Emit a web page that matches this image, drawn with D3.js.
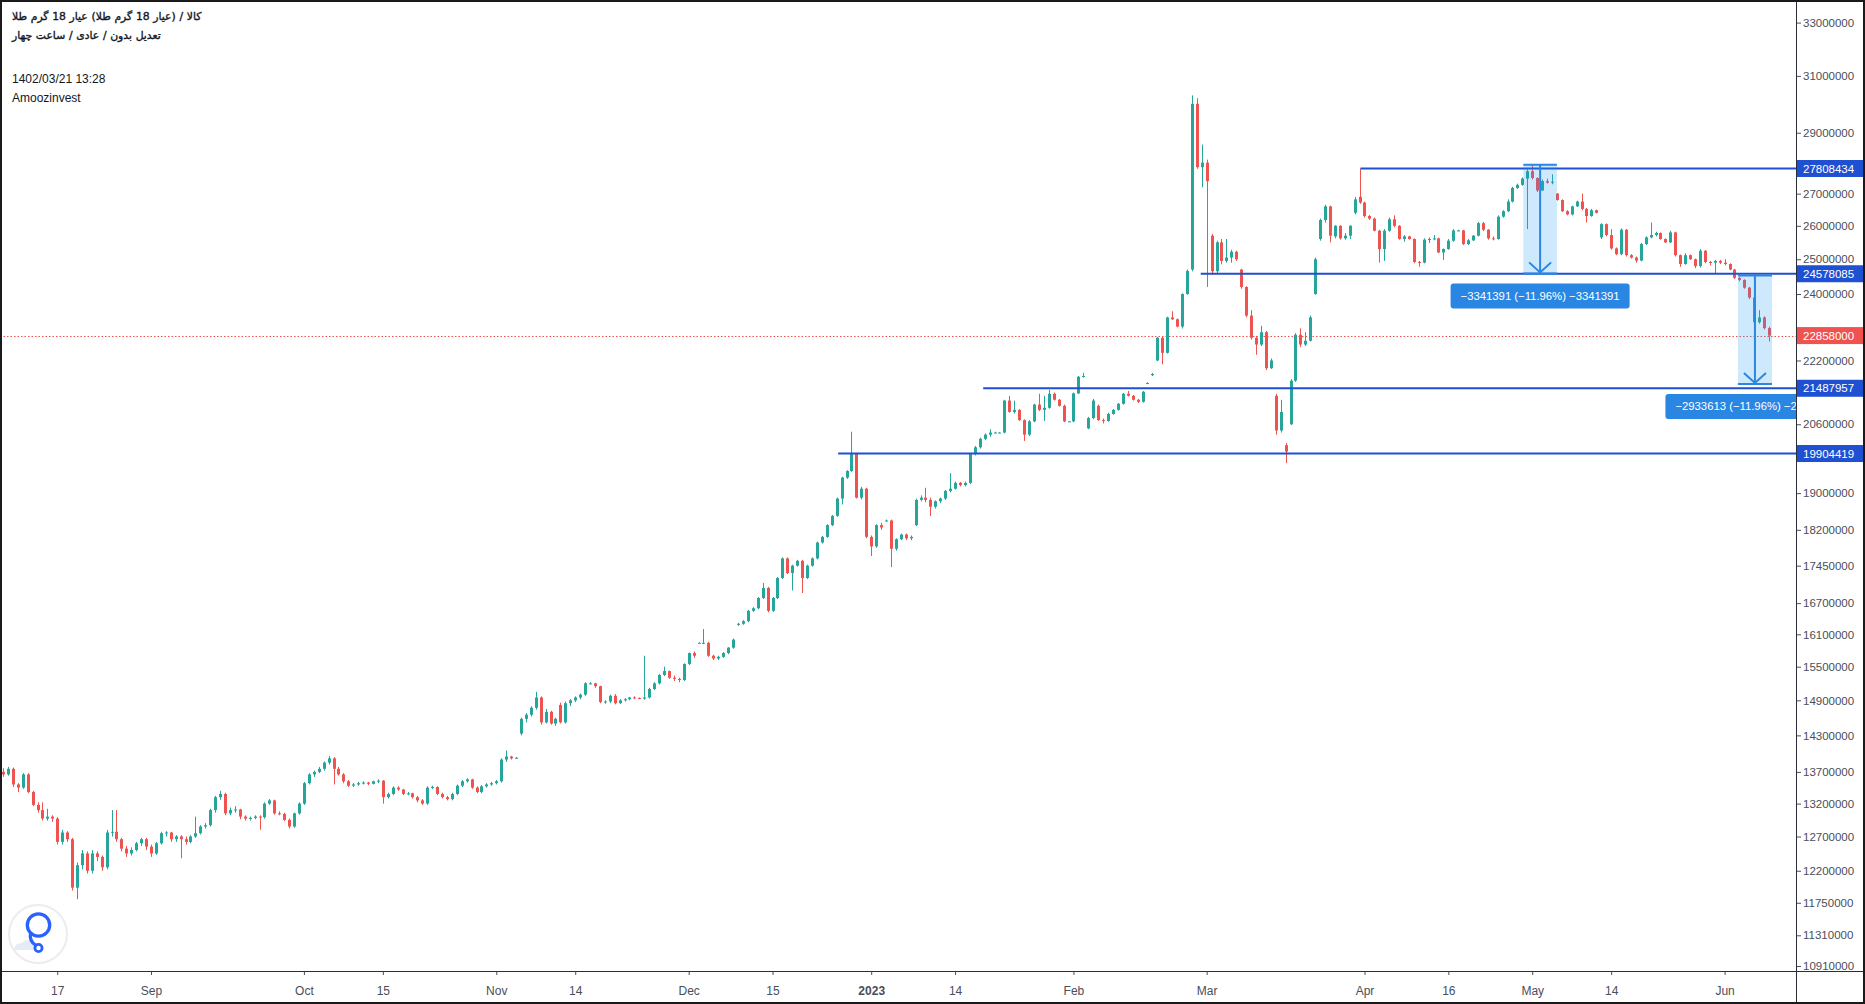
<!DOCTYPE html>
<html><head><meta charset="utf-8">
<script src="https://cdn.jsdelivr.net/npm/d3@7"></script>
<style>
html,body{margin:0;padding:0;background:#fff;}
svg{display:block;font-family:"Liberation Sans",Arial,sans-serif;}
</style></head><body>
<svg id="chart" width="1865" height="1004"></svg>
<script>
// ---------------- DATA ----------------
// 4-hour candles, [open, high, low, close] in units of 10,000 rials
const PRICE_UNIT = 10000;
const ohlc = [
[1370,1376,1362,1366],[1366,1378,1364,1375],[1375,1377,1346,1350],[1350,1352,1338,1345],[1345,1368,1343,1366],[1366,1368,1336,1338],[1338,1340,1316,1318],[1318,1322,1306,1310],[1310,1322,1294,1297],[1297,1312,1294,1300],
[1300,1302,1292,1297],[1297,1299,1258,1262],[1262,1280,1258,1276],[1276,1278,1262,1266],[1266,1268,1192,1196],[1196,1232,1180,1228],[1228,1250,1222,1245],[1245,1248,1216,1220],[1220,1250,1216,1245],[1245,1248,1234,1240],
[1240,1242,1220,1225],[1225,1280,1222,1276],[1276,1310,1270,1277],[1277,1310,1262,1266],[1266,1268,1248,1252],[1252,1256,1240,1245],[1245,1254,1242,1250],[1250,1262,1248,1260],[1260,1268,1256,1266],[1266,1268,1250,1255],
[1255,1258,1240,1245],[1245,1262,1243,1260],[1260,1277,1258,1275],[1275,1278,1270,1276],[1276,1277,1262,1266],[1266,1272,1262,1270],[1270,1272,1238,1266],[1266,1270,1258,1262],[1262,1272,1260,1270],[1270,1300,1268,1275],
[1275,1287,1273,1285],[1285,1290,1282,1287],[1287,1312,1285,1310],[1310,1332,1306,1330],[1330,1340,1326,1335],[1335,1337,1302,1305],[1305,1314,1302,1310],[1310,1316,1306,1311],[1311,1312,1296,1300],[1300,1302,1294,1297],
[1297,1300,1294,1298],[1298,1302,1296,1300],[1300,1302,1280,1299],[1299,1322,1297,1320],[1320,1327,1318,1325],[1325,1326,1303,1305],[1305,1308,1302,1304],[1304,1306,1293,1295],[1295,1297,1282,1285],[1285,1306,1283,1305],
[1305,1322,1303,1320],[1320,1354,1318,1352],[1352,1368,1350,1366],[1366,1372,1362,1370],[1370,1378,1368,1375],[1375,1387,1372,1385],[1385,1396,1382,1392],[1392,1394,1350,1375],[1375,1378,1364,1366],[1366,1368,1352,1355],
[1355,1357,1346,1348],[1348,1352,1346,1350],[1350,1354,1348,1352],[1352,1355,1350,1353],[1353,1354,1349,1351],[1351,1356,1350,1355],[1355,1358,1352,1356],[1356,1357,1320,1330],[1330,1337,1328,1335],[1335,1347,1333,1345],
[1345,1347,1340,1342],[1342,1343,1333,1335],[1335,1338,1333,1336],[1336,1337,1328,1330],[1330,1332,1322,1325],[1325,1327,1318,1320],[1320,1347,1318,1345],[1345,1348,1343,1346],[1346,1347,1333,1335],[1335,1337,1328,1330],
[1330,1332,1325,1327],[1327,1337,1325,1335],[1335,1350,1333,1348],[1348,1357,1346,1355],[1355,1360,1353,1358],[1358,1359,1343,1345],[1345,1347,1336,1338],[1338,1349,1336,1347],[1347,1352,1345,1350],[1350,1354,1348,1352],
[1352,1357,1350,1355],[1355,1392,1353,1390],[1390,1405,1386,1395],[1395,1396,1390,1392],[1392,1394,1391,1393],[1433,1460,1430,1458],[1458,1468,1452,1465],[1465,1480,1462,1477],[1477,1505,1474,1495],[1495,1497,1448,1452],
[1452,1475,1450,1470],[1470,1472,1448,1450],[1450,1460,1446,1458],[1482,1486,1450,1452],[1452,1488,1450,1485],[1485,1492,1480,1490],[1490,1497,1487,1495],[1495,1502,1492,1500],[1500,1522,1498,1520],[1520,1522,1518,1520],
[1520,1521,1512,1515],[1515,1516,1485,1487],[1487,1490,1484,1488],[1488,1500,1485,1498],[1498,1501,1483,1485],[1485,1492,1484,1490],[1490,1494,1488,1492],[1492,1496,1490,1495],[1495,1497,1492,1494],[1494,1495,1492,1493],
[1493,1570,1491,1495],[1495,1512,1493,1510],[1510,1522,1508,1520],[1520,1537,1518,1535],[1535,1550,1533,1542],[1542,1543,1528,1530],[1530,1534,1524,1528],[1528,1530,1522,1526],[1526,1556,1524,1555],[1555,1576,1553,1575],
[1575,1578,1566,1570],[1594,1595,1593,1594],[1594,1620,1592,1594],[1594,1596,1568,1570],[1570,1572,1562,1565],[1565,1570,1562,1568],[1568,1577,1566,1575],[1575,1586,1573,1585],[1585,1602,1583,1600],[1628,1632,1626,1630],
[1630,1637,1628,1635],[1635,1657,1633,1655],[1655,1662,1653,1660],[1660,1682,1658,1680],[1680,1710,1678,1700],[1700,1702,1652,1655],[1655,1682,1653,1680],[1680,1722,1678,1720],[1720,1762,1718,1760],[1760,1762,1728,1730],
[1730,1747,1695,1745],[1745,1757,1743,1755],[1755,1757,1690,1720],[1720,1747,1718,1745],[1745,1762,1743,1760],[1760,1795,1758,1793],[1793,1807,1791,1805],[1805,1832,1803,1830],[1830,1852,1828,1850],[1850,1890,1848,1888],
[1888,1937,1875,1935],[1935,1952,1932,1950],[1950,2042,1948,1990],[1990,1992,1888,1890],[1890,1914,1886,1910],[1910,1912,1802,1805],[1805,1808,1765,1785],[1785,1832,1782,1830],[1830,1835,1820,1825],[1840,1842,1838,1840],
[1840,1842,1742,1780],[1780,1802,1776,1800],[1800,1812,1798,1810],[1810,1812,1798,1802],[1802,1808,1798,1805],[1830,1888,1828,1885],[1885,1895,1882,1890],[1890,1912,1880,1885],[1885,1890,1850,1870],[1870,1884,1866,1882],
[1882,1890,1878,1888],[1888,1907,1885,1905],[1905,1945,1902,1910],[1910,1926,1908,1923],[1923,1925,1915,1918],[1918,1926,1915,1923],[1923,1992,1920,1990],[1990,2008,1986,2005],[2005,2028,2002,2025],[2025,2038,2022,2035],
[2035,2048,2030,2040],[2040,2042,2039,2040],[2040,2041,2039,2040],[2040,2120,2038,2118],[2118,2130,2088,2090],[2090,2118,2086,2095],[2095,2097,2068,2070],[2070,2072,2020,2035],[2035,2070,2032,2067],[2067,2110,2065,2108],
[2108,2135,2092,2095],[2095,2130,2068,2100],[2100,2145,2098,2135],[2135,2138,2118,2120],[2120,2122,2103,2105],[2105,2108,2065,2067],[2067,2068,2066,2067],[2067,2138,2065,2136],[2136,2180,2134,2178],[2178,2188,2176,2180],
[2050,2078,2048,2075],[2075,2122,2072,2118],[2105,2108,2068,2070],[2070,2074,2062,2068],[2068,2088,2066,2085],[2085,2097,2083,2095],[2095,2112,2093,2110],[2110,2137,2108,2135],[2135,2142,2128,2130],[2130,2132,2118,2120],
[2120,2122,2112,2115],[2115,2142,2113,2140],[2162,2164,2160,2162],[2182,2188,2180,2185],[2220,2282,2218,2280],[2280,2285,2210,2240],[2240,2337,2238,2335],[2335,2352,2328,2330],[2330,2332,2308,2310],[2310,2402,2305,2400],
[2400,2470,2398,2466],[2470,3030,2465,3000],[3000,3020,2780,2785],[2785,2860,2720,2800],[2800,2810,2420,2740],[2570,2575,2455,2465],[2465,2555,2460,2550],[2550,2560,2485,2495],[2495,2560,2490,2505],[2505,2528,2490,2522],
[2522,2525,2495,2500],[2470,2472,2415,2420],[2420,2422,2335,2340],[2340,2355,2275,2280],[2280,2285,2235,2262],[2262,2312,2258,2295],[2295,2298,2195,2200],[2200,2225,2198,2220],[2130,2135,2035,2045],[2045,2120,2040,2090],
[2010,2015,1968,1995],[2060,2172,2058,2168],[2168,2292,2165,2288],[2288,2305,2255,2262],[2262,2295,2258,2272],[2272,2340,2270,2335],[2400,2505,2398,2500],[2560,2622,2555,2618],[2618,2665,2610,2660],[2660,2662,2550,2570],
[2568,2602,2562,2600],[2600,2602,2558,2562],[2562,2578,2558,2570],[2570,2602,2560,2600],[2640,2690,2635,2682],[2690,2781,2668,2672],[2672,2675,2625,2630],[2630,2633,2618,2622],[2622,2625,2583,2585],[2585,2588,2490,2530],
[2530,2590,2495,2585],[2585,2625,2582,2620],[2620,2632,2595,2600],[2600,2602,2558,2560],[2560,2572,2552,2568],[2568,2570,2558,2560],[2560,2562,2488,2492],[2492,2495,2478,2490],[2490,2562,2488,2558],[2558,2565,2548,2560],
[2560,2572,2556,2562],[2562,2564,2518,2520],[2520,2532,2498,2530],[2530,2560,2528,2555],[2555,2590,2552,2586],[2586,2588,2584,2586],[2586,2588,2542,2545],[2545,2560,2542,2556],[2556,2572,2554,2570],[2570,2612,2568,2608],
[2608,2612,2584,2588],[2588,2590,2558,2562],[2562,2568,2556,2560],[2560,2632,2558,2628],[2628,2648,2625,2645],[2645,2682,2642,2675],[2675,2722,2672,2718],[2718,2732,2715,2728],[2728,2752,2725,2748],[2748,2778,2590,2772],
[2772,2795,2745,2750],[2750,2752,2705,2710],[2710,2745,2708,2740],[2740,2748,2732,2735],[2735,2762,2730,2738],[2700,2702,2678,2680],[2680,2682,2642,2645],[2645,2648,2632,2635],[2635,2662,2632,2660],[2660,2678,2658,2675],
[2675,2700,2648,2652],[2652,2655,2610,2630],[2630,2652,2628,2648],[2648,2650,2638,2640],[2565,2608,2560,2605],[2605,2607,2568,2572],[2572,2590,2528,2532],[2532,2535,2512,2515],[2515,2592,2512,2588],[2588,2590,2508,2512],
[2512,2515,2502,2505],[2505,2508,2490,2496],[2496,2548,2494,2545],[2545,2568,2542,2565],[2565,2610,2562,2572],[2572,2582,2568,2578],[2578,2580,2558,2560],[2560,2562,2548,2550],[2550,2585,2548,2580],[2580,2582,2508,2512],
[2512,2514,2478,2486],[2486,2518,2484,2512],[2512,2514,2498,2500],[2500,2502,2474,2480],[2480,2530,2476,2525],[2525,2527,2488,2492],[2492,2495,2482,2490],[2490,2498,2460,2495],[2495,2498,2486,2490],[2490,2500,2482,2486],
[2486,2488,2468,2470],[2470,2472,2443,2446],[2446,2448,2436,2440],[2440,2442,2415,2418],[2418,2420,2386,2390],[2390,2392,2318,2322],[2322,2355,2318,2335],[2335,2338,2302,2306],[2306,2310,2270,2285.8]
];

const priceTicks = [33000000,31000000,29000000,27000000,26000000,25000000,24000000,22200000,20600000,19000000,18200000,17450000,16700000,16100000,15500000,14900000,14300000,13700000,13200000,12700000,12200000,11750000,11310000,10910000];

const dateTickLabels = ["17","Sep","Oct","15","Nov","14","Dec","15","2023","14","Feb","Mar","Apr","16","May","14","Jun"];
const dateTickIndex  = [11,30,61,77,100,116,139,156,176,193,217,244,276,293,310,326,349];

// horizontal rays (price level, candle index where the ray starts)
const rayLevels     = [27808434, 24578085, 21487957, 19904419];
const rayStartIndex = [275.2, 242.8, 198.7, 169.3];

const lastPrice = 22858000;

// price-range measurements
const rangeFrom       = [27930000, 24530000];
const rangeChange     = [-3341391, -2933613];
const rangeStartIndex = [308.2, 351.7];
const rangeEndIndex   = [315.0, 358.6];

const titleWords    = ["طلا","گرم","18","عیار","(طلا","گرم","18","عیار)","/","کالا"];
const subtitleWords = ["چهار","ساعت","/","عادی","/","بدون","تعدیل"];
const stampText = "1402/03/21 13:28";
const brandText = "Amoozinvest";

// ---------------- DRAWING ----------------
const W = 1865, H = 1004, PR = 1796, PB = 971;
const UP = "#26a69a", DN = "#ef5350";
const RAY = "#1f50d2", RANGE = "#2a86e3";
const AXIS_TXT = "#4a4e59";

const svg = d3.select("#chart");
const P = v => v * PRICE_UNIT;

const x = d3.scaleLinear().domain([0, ohlc.length - 1]).range([3, 1769]);
const y = d3.scaleLog().domain([10910000, 33000000]).range([966, 22.6]);

svg.append("rect").attr("width", W).attr("height", H).attr("fill", "#fff");
svg.append("defs").append("clipPath").attr("id", "plotClip")
  .append("rect").attr("x", 0).attr("y", 0).attr("width", PR).attr("height", PB);

const plot = svg.append("g").attr("clip-path", "url(#plotClip)");

// last price dotted line
plot.append("line")
  .attr("x1", 0).attr("x2", PR)
  .attr("y1", Math.round(y(lastPrice)) + 0.5).attr("y2", Math.round(y(lastPrice)) + 0.5)
  .attr("stroke", DN).attr("stroke-width", 1).attr("stroke-dasharray", "1.5,2");

// candles
const cx = i => Math.round(x(i));
const candles = plot.append("g");
candles.selectAll("line").data(ohlc).join("line")
  .attr("x1", (d, i) => cx(i) + 0.5).attr("x2", (d, i) => cx(i) + 0.5)
  .attr("y1", d => y(P(d[1]))).attr("y2", d => y(P(d[2])))
  .attr("stroke", d => d[3] >= d[0] ? UP : DN).attr("stroke-width", 1);
candles.selectAll("rect").data(ohlc).join("rect")
  .attr("x", (d, i) => cx(i) - 1).attr("width", 3)
  .attr("y", d => y(P(Math.max(d[0], d[3]))))
  .attr("height", d => Math.max(1, Math.abs(y(P(d[0])) - y(P(d[3])))))
  .attr("fill", d => d[3] >= d[0] ? UP : DN);

// horizontal rays
plot.selectAll("line.ray").data(rayLevels).join("line").attr("class", "ray")
  .attr("x1", (d, i) => x(rayStartIndex[i])).attr("x2", PR)
  .attr("y1", d => y(d)).attr("y2", d => y(d))
  .attr("stroke", RAY).attr("stroke-width", 2);

// price ranges
const sgn = v => (v < 0 ? "\u2212" : "") + Math.abs(v);
rangeFrom.forEach((from, k) => {
  const to = from + rangeChange[k];
  const x0 = x(rangeStartIndex[k]), x1 = x(rangeEndIndex[k]);
  const yT = y(from), yB = y(to);
  const g = plot.append("g");
  g.append("rect").attr("x", x0).attr("y", yT).attr("width", x1 - x0).attr("height", yB - yT)
    .attr("fill", "rgba(33,150,243,0.22)");
  [yT, yB].forEach(yy => g.append("line").attr("x1", x0).attr("x2", x1).attr("y1", yy).attr("y2", yy)
    .attr("stroke", RANGE).attr("stroke-width", 2));
  const mx = (x0 + x1) / 2;
  g.append("line").attr("x1", mx).attr("x2", mx).attr("y1", yT).attr("y2", yB - 1)
    .attr("stroke", RANGE).attr("stroke-width", 2);
  g.append("path").attr("d", `M${mx - 11},${yB - 11}L${mx},${yB - 1}L${mx + 11},${yB - 11}`)
    .attr("fill", "none").attr("stroke", RANGE).attr("stroke-width", 2);
  const pct = (rangeChange[k] / from * 100).toFixed(2);
  const txt = `${sgn(rangeChange[k])} (${pct.replace("-", "\u2212")}%) ${sgn(rangeChange[k])}`;
  const lg = plot.append("g");
  const t = lg.append("text").attr("x", mx).attr("y", yB + 10 + 12.5).attr("dy", "0.35em")
    .attr("text-anchor", "middle").attr("fill", "#fff").attr("font-size", "11.3px").text(txt);
  const w = t.node().getComputedTextLength() + 20;
  lg.insert("rect", "text").attr("x", mx - w / 2).attr("y", yB + 10).attr("width", w).attr("height", 25)
    .attr("rx", 3).attr("fill", RANGE);
});

// price axis
svg.append("rect").attr("x", PR).attr("y", 0).attr("width", W - PR).attr("height", H).attr("fill", "#fff");
const ya = svg.append("g").attr("transform", `translate(${PR},0)`)
  .call(d3.axisRight(y).tickValues(priceTicks).tickSize(5).tickPadding(2).tickFormat(d3.format("d")));
ya.select(".domain").remove();
ya.selectAll(".tick line").attr("stroke", AXIS_TXT);
ya.selectAll("text").attr("font-size", "11.5px").attr("fill", AXIS_TXT).attr("font-family", "Liberation Sans, Arial");

// price labels
const tags = rayLevels.map(v => ({v, c: RAY})).concat([{v: lastPrice, c: DN}]);
const tg = svg.append("g");
tags.forEach(d => {
  const yy = y(d.v);
  tg.append("line").attr("x1", PR).attr("x2", PR + 5).attr("y1", yy).attr("y2", yy).attr("stroke", d.c);
  tg.append("rect").attr("x", PR + 1).attr("y", yy - 8.5).attr("width", W - PR - 1).attr("height", 17).attr("fill", d.c);
  tg.append("text").attr("x", PR + 7).attr("y", yy).attr("dy", "0.35em").attr("fill", "#fff")
    .attr("font-size", "11.5px").text(d.v);
});

// time axis
const xa = svg.append("g").attr("transform", `translate(0,${PB})`)
  .call(d3.axisBottom(x).tickValues(dateTickIndex).tickSize(4).tickPadding(11)
    .tickFormat((d, i) => dateTickLabels[i]));
xa.select(".domain").remove();
xa.selectAll(".tick line").attr("stroke", AXIS_TXT);
xa.selectAll("text").attr("font-size", "12px").attr("fill", AXIS_TXT)
  .attr("font-weight", (d, i) => dateTickLabels[i] === "2023" ? "bold" : "normal");

// frame lines
svg.append("line").attr("x1", PR + 0.5).attr("x2", PR + 0.5).attr("y1", 0).attr("y2", H).attr("stroke", "#2a2e39");
svg.append("line").attr("x1", 0).attr("x2", W).attr("y1", PB + 0.5).attr("y2", PB + 0.5).attr("stroke", "#2a2e39");
svg.append("rect").attr("x", 1).attr("y", 1).attr("width", W - 2).attr("height", H - 2)
  .attr("fill", "none").attr("stroke", "#1a1a1a").attr("stroke-width", 2);

// legend (top-left): words laid out left to right, each word measured
const legend = svg.append("g").attr("fill", "#131722");
function wordLine(words, baseline, fs) {
  let px = 12;
  const space = fs * 0.34;
  words.forEach(wd => {
    const t = legend.append("text").attr("x", px).attr("y", baseline)
      .attr("font-family", "DejaVu Sans").attr("font-size", fs + "px")
      .attr("stroke", "#131722").attr("stroke-width", 0.35)
      .text(wd);
    px += t.node().getComputedTextLength() + space;
  });
}
wordLine(titleWords, 20, 10.8);
wordLine(subtitleWords, 39, 10.8);
legend.append("text").attr("x", 12).attr("y", 83).attr("font-size", "12px").text(stampText);
legend.append("text").attr("x", 12).attr("y", 102).attr("font-size", "12px").text(brandText);

// logo watermark
const logo = svg.append("g");
logo.append("circle").attr("cx", 38).attr("cy", 934).attr("r", 29).attr("fill", "#fff")
  .attr("stroke", "#ececec").attr("stroke-width", 2);
logo.append("path").attr("d", "M14,949 q1,-6 8,-6 q3,-5 9,-2 q5,0 5,5 q0,4 -4,4 h-16 q-3,0 -2,-1z").attr("fill", "#e6ecf3");
logo.append("circle").attr("cx", 38.5).attr("cy", 925).attr("r", 11.2).attr("fill", "none")
  .attr("stroke", "#2962ff").attr("stroke-width", 3.3);
logo.append("path").attr("d", "M30.5,933 Q29,941 35.5,945").attr("fill", "none")
  .attr("stroke", "#2962ff").attr("stroke-width", 3.2).attr("stroke-linecap", "round");
logo.append("circle").attr("cx", 38.5).attr("cy", 948).attr("r", 3.6).attr("fill", "none")
  .attr("stroke", "#2962ff").attr("stroke-width", 2.8);
</script>
</body></html>
